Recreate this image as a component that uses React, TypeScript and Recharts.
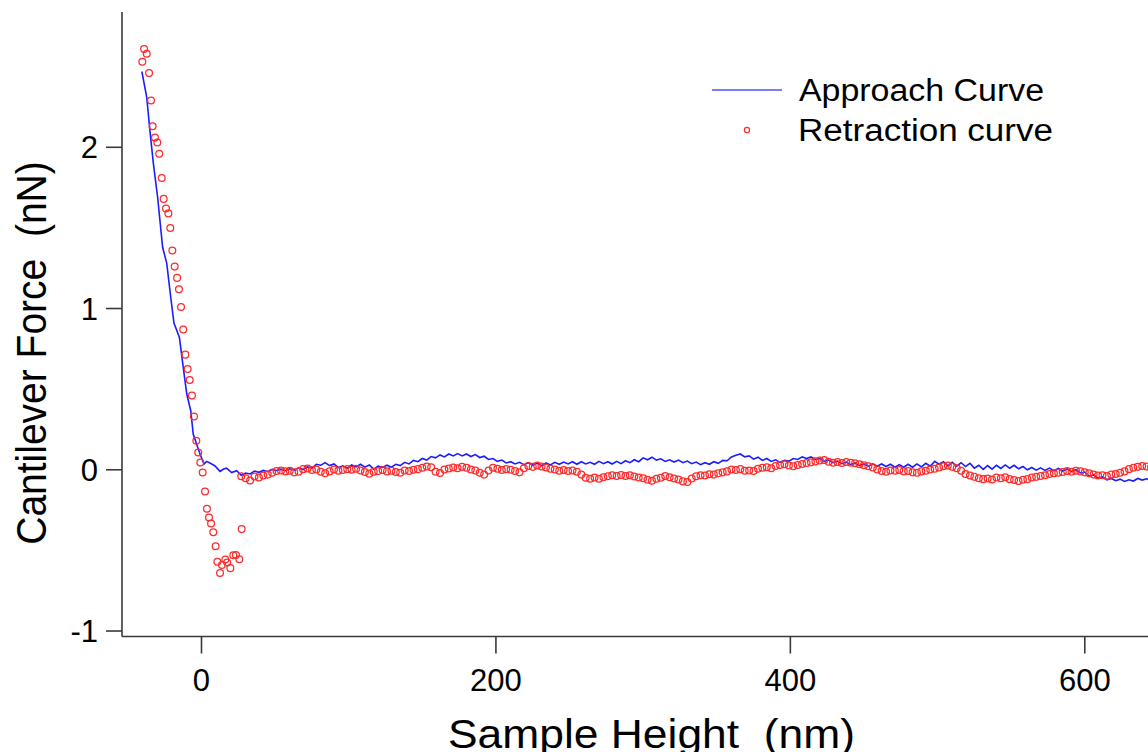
import React from 'react';
import { ComposedChart, Line, Scatter, XAxis, YAxis, Legend, Label } from 'recharts';

const FONT = '"Liberation Sans", Arial, Helvetica, sans-serif';

const xTicks = [0, 200, 400, 600];
const yTicks = [-1, 0, 1, 2];
const xDomain = [-54, 700];
const yDomain = [-1.034, 2.839];

const seriesNames = ['Approach Curve', 'Retraction curve'];
const axisTitles = { x: 'Sample Height  (nm)', y: 'Cantilever Force  (nN)' };

// Approach curve: contact region then flat baseline
const approachContact: [number, number][] = [
  [-40.5, 2.47], [-37.2, 2.31], [-35, 2.1], [-32.7, 1.9], [-29.8, 1.69], [-26.4, 1.38],
  [-23.6, 1.28], [-20.9, 1.07], [-18.7, 0.91], [-15, 0.82], [-12.4, 0.635], [-10, 0.47],
  [-7.3, 0.366], [-5.6, 0.22], [-1, 0.098], [1.7, 0.035], [3.5, 0.052], [6, 0.04],
  [9, 0.025], [12.6, -0.01], [15, 0.005], [17, 0.01], [20.5, -0.017], [23.9, -0.006],
];
const approachBaseline: [number, number][] = [
  [27, -0.034], [30, -0.02], [33, -0.026], [36, -0.008], [39, -0.016], [42, -0.004], [45, -0.012], [48, 0.002],
  [51, -0.004], [54, 0.004], [57, -0.006], [60, 0.006], [63, -0.002], [66, 0.012], [69, 0.002], [72, 0.018],
  [75, 0.01], [78, 0.034], [81, 0.028], [84, 0.044], [87, 0.026], [90, 0.036], [93, 0.014], [96, 0.024],
  [99, 0.01], [102, 0.03], [105, 0.018], [108, 0.034], [111, 0.016], [114, 0.03], [117, 0.004], [120, 0.022],
  [123, 0.014], [126, 0.028], [129, 0.016], [132, 0.034], [135, 0.026], [138, 0.046], [141, 0.036], [144, 0.058],
  [147, 0.05], [150, 0.07], [153, 0.06], [156, 0.082], [159, 0.074], [162, 0.092], [165, 0.08], [168, 0.098],
  [171, 0.086], [174, 0.1], [177, 0.086], [180, 0.098], [183, 0.082], [186, 0.094], [189, 0.076], [192, 0.084],
  [195, 0.064], [198, 0.07], [201, 0.052], [204, 0.06], [207, 0.042], [210, 0.05], [213, 0.036], [216, 0.046],
  [219, 0.032], [222, 0.044], [225, 0.028], [228, 0.04], [231, 0.026], [234, 0.042], [237, 0.03], [240, 0.046],
  [243, 0.034], [246, 0.048], [249, 0.036], [252, 0.05], [255, 0.034], [258, 0.05], [261, 0.036], [264, 0.046],
  [267, 0.034], [270, 0.052], [273, 0.038], [276, 0.05], [279, 0.036], [282, 0.052], [285, 0.038], [288, 0.056],
  [291, 0.044], [294, 0.062], [297, 0.05], [300, 0.074], [303, 0.062], [306, 0.078], [309, 0.06], [312, 0.068],
  [315, 0.052], [318, 0.062], [321, 0.048], [324, 0.06], [327, 0.044], [330, 0.054], [333, 0.038], [336, 0.048],
  [339, 0.032], [342, 0.044], [345, 0.034], [348, 0.05], [351, 0.04], [354, 0.058], [357, 0.056], [360, 0.08],
  [363, 0.09], [366, 0.098], [369, 0.08], [372, 0.086], [375, 0.066], [378, 0.078], [381, 0.058], [384, 0.07],
  [387, 0.052], [390, 0.062], [393, 0.046], [396, 0.058], [399, 0.054], [402, 0.07], [405, 0.064], [408, 0.08],
  [411, 0.07], [414, 0.08], [417, 0.064], [420, 0.07], [423, 0.052], [426, 0.06], [429, 0.044], [432, 0.054],
  [435, 0.038], [438, 0.048], [441, 0.032], [444, 0.042], [447, 0.026], [450, 0.036], [453, 0.022], [456, 0.036],
  [459, 0.022], [462, 0.036], [465, 0.02], [468, 0.034], [471, 0.016], [474, 0.032], [477, 0.016], [480, 0.034],
  [483, 0.016], [486, 0.036], [489, 0.018], [492, 0.04], [495, 0.022], [498, 0.052], [501, 0.034], [504, 0.05],
  [507, 0.024], [510, 0.046], [513, 0.022], [516, 0.044], [519, 0.02], [522, 0.04], [525, 0.01], [528, 0.028],
  [531, 0.002], [534, 0.026], [537, 0.004], [540, 0.028], [543, 0.008], [546, 0.03], [549, 0.01], [552, 0.028],
  [555, 0.006], [558, 0.02], [561, 0.0], [564, 0.014], [567, -0.002], [570, 0.012], [573, -0.004], [576, 0.01],
  [579, -0.006], [582, 0.008], [585, -0.008], [588, 0.006], [591, -0.012], [594, 0.0], [597, -0.02], [600, -0.014],
  [603, -0.04], [606, -0.032], [609, -0.052], [612, -0.044], [615, -0.062], [618, -0.054], [621, -0.068], [624, -0.058],
  [627, -0.072], [630, -0.062], [633, -0.07], [636, -0.054], [639, -0.064], [642, -0.056], [645, -0.066], [648, -0.058],
];

// Retraction curve: contact region, adhesion dip, then flat baseline
const retractionContact: [number, number][] = [
  [-39, 2.61], [-37.2, 2.58], [-40.2, 2.53], [-35.6, 2.46], [-34.3, 2.29], [-33.2, 2.13], [-31.6, 2.06],
  [-30, 2.03], [-28.7, 1.96], [-27, 1.81], [-25.7, 1.68], [-24.1, 1.62], [-22.5, 1.59], [-21.2, 1.5],
  [-19.8, 1.36], [-18.2, 1.26], [-16.6, 1.19], [-15.3, 1.12], [-13.9, 1.01], [-12.4, 0.87], [-11, 0.714],
  [-9.4, 0.625], [-8, 0.557], [-6.5, 0.46], [-5.1, 0.33], [-3.5, 0.18], [-2.2, 0.107], [-0.8, 0.045],
  [0.8, -0.017], [2.4, -0.135], [3.7, -0.242], [5.1, -0.296], [6.5, -0.333], [8, -0.387], [9.6, -0.474],
  [10.8, -0.57], [12.6, -0.64], [13.9, -0.59], [16.2, -0.557], [17.4, -0.575], [19.6, -0.61], [21.6, -0.53],
  [23.4, -0.528], [25.7, -0.555], [27.3, -0.368],
];
const retractionBaseline: [number, number][] = [
  [27, -0.04], [30, -0.052], [33, -0.066], [36, -0.042], [39, -0.048], [42, -0.035], [45, -0.03], [48, -0.018],
  [51, -0.008], [54, -0.004], [57, -0.01], [60, -0.006], [63, -0.016], [66, -0.012], [69, 0.004], [72, 0.008],
  [75, -0.002], [78, 0.002], [81, -0.012], [84, -0.022], [87, -0.01], [90, 0.002], [93, -0.006], [96, -0.002],
  [99, 0.004], [102, 0.0], [105, 0.006], [108, -0.004], [111, -0.014], [114, -0.024], [117, -0.012], [120, -0.008],
  [123, -0.002], [126, -0.01], [129, -0.006], [132, -0.014], [135, -0.018], [138, -0.004], [141, -0.008], [144, 0.0],
  [147, 0.004], [150, 0.012], [153, 0.02], [156, 0.016], [159, -0.012], [162, -0.02], [165, 0.002], [168, 0.008],
  [171, 0.014], [174, 0.01], [177, 0.018], [180, 0.012], [183, 0.002], [186, -0.004], [189, -0.018], [192, -0.03],
  [195, -0.004], [198, 0.012], [201, 0.006], [204, -0.002], [207, 0.004], [210, 0.0], [213, -0.008], [216, -0.016],
  [219, 0.01], [222, 0.024], [225, 0.018], [228, 0.026], [231, 0.02], [234, 0.014], [237, 0.006], [240, 0.002],
  [243, -0.006], [246, -0.002], [249, -0.008], [252, -0.004], [255, -0.012], [258, -0.03], [261, -0.05], [264, -0.056],
  [267, -0.048], [270, -0.056], [273, -0.046], [276, -0.04], [279, -0.034], [282, -0.038], [285, -0.032], [288, -0.038],
  [291, -0.034], [294, -0.042], [297, -0.048], [300, -0.052], [303, -0.062], [306, -0.068], [309, -0.056], [312, -0.05],
  [315, -0.038], [318, -0.046], [321, -0.054], [324, -0.06], [327, -0.072], [330, -0.076], [333, -0.054], [336, -0.04],
  [339, -0.034], [342, -0.036], [345, -0.028], [348, -0.03], [351, -0.022], [354, -0.016], [357, -0.01], [360, 0.002],
  [363, -0.002], [366, 0.004], [369, -0.006], [372, -0.004], [375, -0.008], [378, 0.006], [381, 0.012], [384, 0.016],
  [387, 0.01], [390, 0.024], [393, 0.03], [396, 0.034], [399, 0.026], [402, 0.022], [405, 0.03], [408, 0.036],
  [411, 0.042], [414, 0.046], [417, 0.052], [420, 0.058], [423, 0.06], [426, 0.05], [429, 0.044], [432, 0.048],
  [435, 0.042], [438, 0.048], [441, 0.044], [444, 0.04], [447, 0.034], [450, 0.028], [453, 0.022], [456, 0.014],
  [459, 0.002], [462, -0.008], [465, -0.012], [468, -0.004], [471, -0.006], [474, -0.002], [477, -0.01], [480, -0.008],
  [483, -0.016], [486, -0.018], [489, -0.01], [492, -0.006], [495, 0.002], [498, 0.006], [501, 0.014], [504, 0.022],
  [507, 0.026], [510, 0.018], [513, 0.01], [516, -0.006], [519, -0.026], [522, -0.036], [525, -0.044], [528, -0.052],
  [531, -0.058], [534, -0.054], [537, -0.06], [540, -0.048], [543, -0.052], [546, -0.046], [549, -0.058], [552, -0.064],
  [555, -0.07], [558, -0.062], [561, -0.058], [564, -0.048], [567, -0.044], [570, -0.038], [573, -0.034], [576, -0.026],
  [579, -0.022], [582, -0.018], [585, -0.014], [588, -0.008], [591, -0.012], [594, -0.006], [597, -0.01], [600, -0.016],
  [603, -0.022], [606, -0.03], [609, -0.036], [612, -0.034], [615, -0.038], [618, -0.03], [621, -0.026], [624, -0.018],
  [627, -0.01], [630, 0.004], [633, 0.012], [636, 0.018], [639, 0.024], [642, 0.02], [645, 0.016], [648, 0.02],
];

const approachData = [...approachContact, ...approachBaseline].map(([x, y]) => ({ x, y }));
const retractionData = [...retractionContact, ...retractionBaseline].map(([x, y]) => ({ x, y }));

const BLUE = '#1c1cff';
const RED = '#ff2a2a';
const AXIS = '#3a3a3a';

const RingShape = (props: any) => {
  const { cx, cy } = props;
  if (cx == null || cy == null) return null;
  return <circle cx={cx} cy={cy} r={3.4} fill="none" stroke={RED} strokeWidth={1.25} />;
};

const renderLegend = () => (
  <svg width={440} height={100} style={{ overflow: 'visible' }}>
    <line x1={12} y1={30} x2={82} y2={30} stroke="#5050ff" strokeWidth={1.3} />
    <text x={99} y={41} fontSize={31} fontFamily={FONT} fill="#000" textLength={245} lengthAdjust="spacingAndGlyphs">
      {seriesNames[0]}
    </text>
    <circle cx={47} cy={70} r={2.6} fill="none" stroke={RED} strokeWidth={1.2} />
    <text x={98} y={81} fontSize={31} fontFamily={FONT} fill="#000" textLength={255} lengthAdjust="spacingAndGlyphs">
      {seriesNames[1]}
    </text>
  </svg>
);

const YTitle = () => (
  <g transform="translate(45.5, 353) rotate(-90) scale(1, 1.08)">
    <text
      x={0}
      y={0}
      textAnchor="middle"
      fontSize={39}
      fontFamily={FONT}
      fill="#000"
      style={{ whiteSpace: 'pre' }}
    >
      {axisTitles.y}
    </text>
  </g>
);

const XTitle = () => (
  <text
    x={448}
    y={748}
    fontSize={40}
    fontFamily={FONT}
    fill="#000"
    textLength={407}
    lengthAdjust="spacingAndGlyphs"
    style={{ whiteSpace: 'pre' }}
  >
    {axisTitles.x}
  </text>
);

export default function App() {
  const tickStyle = { fontSize: 31, fill: '#000', fontFamily: FONT };
  return (
    <div
      style={{
        position: 'absolute',
        left: 0,
        top: 0,
        width: 1148,
        height: 752,
        overflow: 'hidden',
        background: '#fff',
      }}
    >
      <ComposedChart
        width={1260}
        height={800}
        margin={{ top: 12, right: 28, left: 0, bottom: 103.5 }}
      >
        <XAxis
          xAxisId="top"
          orientation="top"
          type="number"
          domain={xDomain}
          allowDataOverflow
          height={0}
          tick={false}
          tickLine={false}
          axisLine={{ stroke: AXIS, strokeWidth: 1.6 }}
        />
        <XAxis
          type="number"
          dataKey="x"
          domain={xDomain}
          allowDataOverflow
          ticks={xTicks}
          height={60}
          tickSize={17}
          tickMargin={15}
          tick={tickStyle}
          tickLine={{ stroke: AXIS, strokeWidth: 1.6 }}
          axisLine={{ stroke: AXIS, strokeWidth: 1.6 }}
        >
          <Label content={<XTitle />} />
        </XAxis>
        <YAxis
          type="number"
          dataKey="y"
          domain={yDomain}
          allowDataOverflow
          ticks={yTicks}
          width={122}
          tickSize={16}
          tickMargin={8}
          tick={tickStyle}
          tickLine={{ stroke: AXIS, strokeWidth: 1.6 }}
          axisLine={{ stroke: AXIS, strokeWidth: 1.6 }}
        >
          <Label content={<YTitle />} />
        </YAxis>
        <Legend
          layout="horizontal"
          verticalAlign="middle"
          align="center"
          content={renderLegend}
          wrapperStyle={{ position: 'absolute', left: 700, top: 60, width: 440, height: 100 }}
        />
        <Line
          data={approachData}
          dataKey="y"
          type="linear"
          stroke={BLUE}
          strokeWidth={1.6}
          dot={false}
          activeDot={false}
          isAnimationActive={false}
          name={seriesNames[0]}
        />
        <Scatter
          data={retractionData}
          dataKey="y"
          shape={RingShape}
          isAnimationActive={false}
          name={seriesNames[1]}
        />
      </ComposedChart>
    </div>
  );
}
